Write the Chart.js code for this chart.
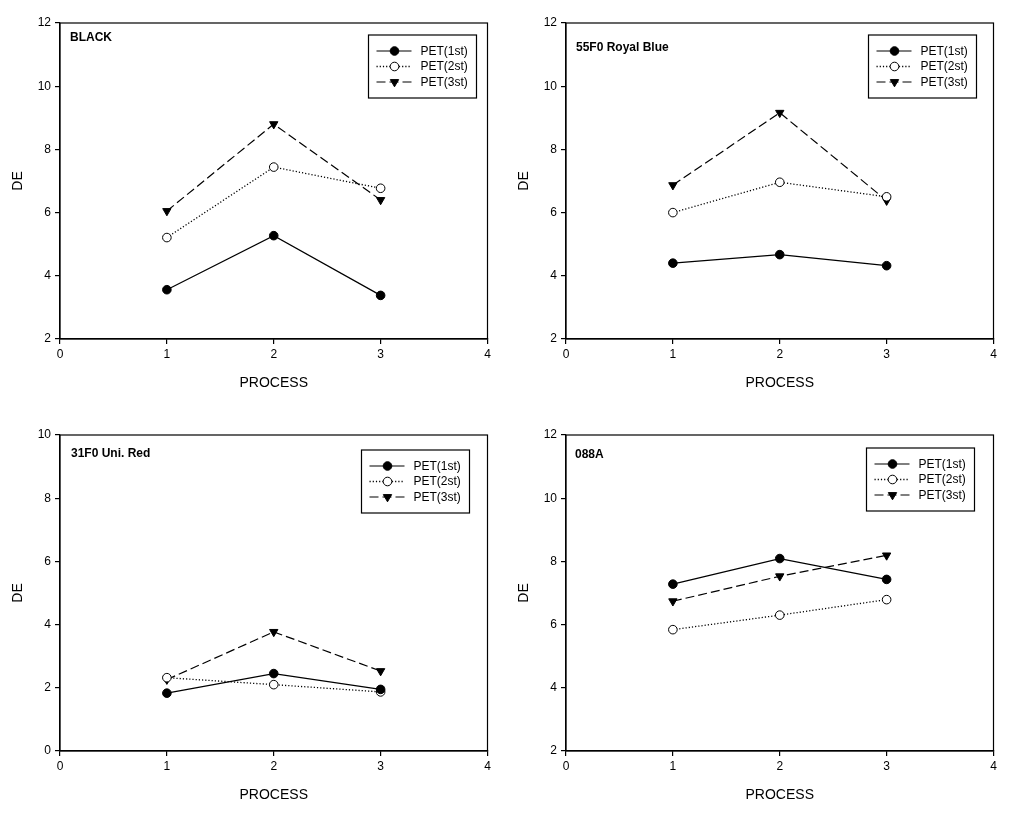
<!DOCTYPE html>
<html>
<head>
<meta charset="utf-8">
<script src="https://cdn.jsdelivr.net/npm/chart.js"></script>
<style>
  body { margin: 0; background: #fff; }
  .panel { position: absolute; width: 506px; height: 400px; }
</style>
</head>
<body>
<div class="panel" style="left:0;top:0"><canvas id="c1"></canvas></div>
<div class="panel" style="left:506px;top:0"><canvas id="c2"></canvas></div>
<div class="panel" style="left:0;top:412px"><canvas id="c3"></canvas></div>
<div class="panel" style="left:506px;top:412px"><canvas id="c4"></canvas></div>
<script>
const processSteps = [1, 2, 3];
const seriesNames = ['PET(1st)', 'PET(2st)', 'PET(3st)'];
const xTicks = [0, 1, 2, 3, 4];

// DE values
const blackPet1 = [3.56, 5.27, 3.38];
const blackPet2 = [5.21, 7.44, 6.77];
const blackPet3 = [6.05, 8.80, 6.40];

const royalBluePet1 = [4.40, 4.67, 4.32];
const royalBluePet2 = [6.00, 6.96, 6.50];
const royalBluePet3 = [6.87, 9.16, 6.38];

const uniRedPet1 = [1.83, 2.45, 1.95];
const uniRedPet2 = [2.32, 2.10, 1.87];
const uniRedPet3 = [2.26, 3.77, 2.53];

const a088Pet1 = [7.28, 8.09, 7.43];
const a088Pet2 = [5.84, 6.30, 6.79];
const a088Pet3 = [6.74, 7.53, 8.19];

const FONT = "'Liberation Sans', Arial, sans-serif";

const seriesStyles = [
  { borderDash: [], pointStyle: 'circle', fill: '#000', radius: 4.3, rotation: 0, width: 1.2 },
  { borderDash: [1.2, 2], pointStyle: 'circle', fill: '#fff', radius: 4.3, rotation: 0, width: 1.3 },
  { borderDash: [9, 4], pointStyle: 'triangle', fill: '#000', radius: 4.8, rotation: 180, width: 1.2 }
];

function drawMarker(ctx, style, x, y) {
  ctx.save();
  ctx.beginPath();
  if (style.pointStyle === 'circle') {
    ctx.arc(x, y, style.radius, 0, Math.PI * 2);
  } else {
    const r = style.radius;
    ctx.moveTo(x - r * 0.866, y - r * 0.5);
    ctx.lineTo(x + r * 0.866, y - r * 0.5);
    ctx.lineTo(x, y + r);
    ctx.closePath();
  }
  ctx.fillStyle = style.fill;
  ctx.fill();
  ctx.lineWidth = 1;
  ctx.strokeStyle = '#000';
  ctx.setLineDash([]);
  ctx.stroke();
  ctx.restore();
}

const framePlugin = {
  id: 'frame',
  afterDatasetsDraw(chart, args, opts) {
    const { ctx, chartArea: a } = chart;
    ctx.save();
    ctx.strokeStyle = '#000';
    ctx.lineWidth = 1.2;
    ctx.strokeRect(a.left, a.top, a.right - a.left, a.bottom - a.top);

    // panel title
    ctx.fillStyle = '#000';
    ctx.font = 'bold 12px ' + FONT;
    ctx.textBaseline = 'middle';
    ctx.textAlign = 'left';
    ctx.fillText(opts.title, a.left + opts.titleDx, a.top + opts.titleDy);

    // legend box
    const bw = 108, bh = 63;
    const bx = a.right - opts.legendRight - bw;
    const by = a.top + opts.legendTop;
    ctx.fillStyle = '#fff';
    ctx.fillRect(bx, by, bw, bh);
    ctx.lineWidth = 1.2;
    ctx.strokeRect(bx, by, bw, bh);
    ctx.font = '12px ' + FONT;
    chart.data.datasets.forEach((ds, i) => {
      const st = seriesStyles[i];
      const y = by + 16 + i * 15.5;
      ctx.beginPath();
      ctx.setLineDash(st.borderDash);
      ctx.lineWidth = st.width;
      ctx.moveTo(bx + 8, y);
      ctx.lineTo(bx + 43, y);
      ctx.stroke();
      ctx.setLineDash([]);
      drawMarker(ctx, st, bx + 26, y);
      ctx.fillStyle = '#000';
      ctx.fillText(ds.label, bx + 52, y + 0.5);
    });
    ctx.restore();
  }
};

function makePanel(id, s1, s2, s3, yMin, yMax, place) {
  const series = [s1, s2, s3];
  const datasets = series.map((vals, i) => {
    const st = seriesStyles[i];
    return {
      label: seriesNames[i],
      data: processSteps.map((p, k) => ({ x: p, y: vals[k] })),
      borderColor: '#000',
      borderWidth: st.width,
      borderDash: st.borderDash,
      pointStyle: st.pointStyle,
      pointRotation: st.rotation,
      pointRadius: st.radius,
      pointBackgroundColor: st.fill,
      pointBorderColor: '#000',
      pointBorderWidth: 1,
      tension: 0
    };
  });

  new Chart(document.getElementById(id), {
    type: 'line',
    data: { datasets },
    options: {
      responsive: true,
      maintainAspectRatio: false,
      animation: false,
      layout: { padding: { top: 23, right: 18.5, left: 0, bottom: 0 } },
      plugins: {
        legend: { display: false },
        tooltip: { enabled: false },
        frame: place
      },
      scales: {
        x: {
          type: 'linear',
          min: 0,
          max: 4,
          afterBuildTicks: (scale) => { scale.ticks = xTicks.map(v => ({ value: v })); },
          afterFit: (scale) => { scale.height = 61; },
          ticks: { color: '#000', font: { family: FONT, size: 12 }, padding: 3, maxRotation: 0 },
          grid: { drawOnChartArea: false, drawTicks: true, tickLength: 5, color: '#000', lineWidth: 1.2 },
          border: { display: true, color: '#000', width: 1.2 },
          title: { display: true, text: 'PROCESS', color: '#000', font: { family: FONT, size: 14 }, padding: { top: 0, bottom: 8 } }
        },
        y: {
          min: yMin,
          max: yMax,
          afterFit: (scale) => { scale.width = 60; },
          ticks: { stepSize: 2, color: '#000', font: { family: FONT, size: 12 }, padding: 4 },
          grid: { drawOnChartArea: false, drawTicks: true, tickLength: 5, color: '#000', lineWidth: 1.2 },
          border: { display: true, color: '#000', width: 1.2 },
          title: { display: true, text: 'DE', color: '#000', font: { family: FONT, size: 14 }, padding: { top: 10, bottom: 0 } }
        }
      }
    },
    plugins: [framePlugin]
  });
}

makePanel('c1', blackPet1, blackPet2, blackPet3, 2, 12,
  { title: 'BLACK', titleDx: 10, titleDy: 15, legendRight: 11, legendTop: 12 });
makePanel('c2', royalBluePet1, royalBluePet2, royalBluePet3, 2, 12,
  { title: '55F0 Royal Blue', titleDx: 10, titleDy: 25, legendRight: 17, legendTop: 12 });
makePanel('c3', uniRedPet1, uniRedPet2, uniRedPet3, 0, 10,
  { title: '31F0 Uni. Red', titleDx: 11, titleDy: 19, legendRight: 18, legendTop: 15 });
makePanel('c4', a088Pet1, a088Pet2, a088Pet3, 2, 12,
  { title: '088A', titleDx: 9, titleDy: 20, legendRight: 19, legendTop: 13 });
</script>
</body>
</html>
